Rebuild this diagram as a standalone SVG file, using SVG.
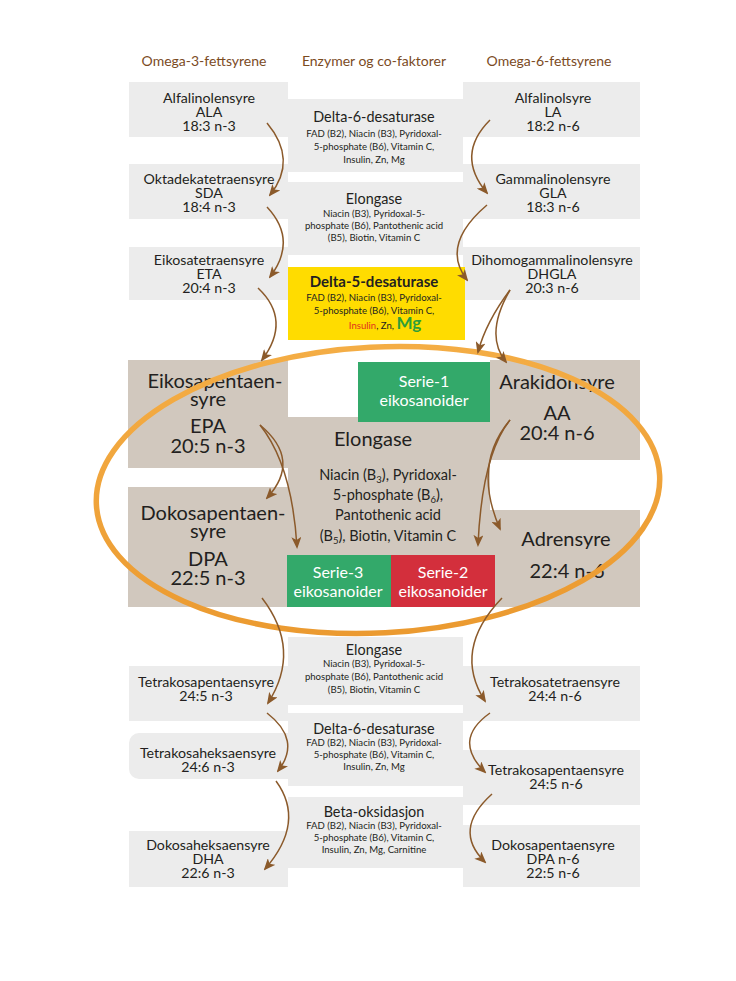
<svg xmlns="http://www.w3.org/2000/svg" width="736" height="981" viewBox="0 0 736 981">
<defs>
<style>
text{font-family:Lato,"Open Sans","Liberation Sans",sans-serif;fill:#231f20;text-anchor:middle}
.hdr{font-size:14px;fill:#7b4b1f}
.g{fill:#ececec}
.t{fill:#d1c8be}
.n{font-size:14.2px}
.et{font-size:14.4px}
.sm{font-size:9.6px}
.big{font-size:20px}
.mid{font-size:14.5px}
.w{fill:#ffffff;font-size:16px}
.c{fill:none;stroke:#8b5a2b;stroke-width:1.5;marker-end:url(#ah)}
</style>
<marker id="ah" viewBox="0 0 12 10" refX="10" refY="5" markerWidth="12" markerHeight="10" markerUnits="userSpaceOnUse" orient="auto">
<path d="M0,0 L12,5 L0,10 L3,5 z" fill="#8b5a2b"/>
</marker>
<linearGradient id="og" x1="0" y1="0" x2="0" y2="1">
<stop offset="0" stop-color="#f4ad45"/>
<stop offset="1" stop-color="#eb9a30"/>
</linearGradient>
</defs>
<rect width="736" height="981" fill="#ffffff"/>

<g id="headers">
<text class="hdr" x="204" y="66">Omega-3-fettsyrene</text>
<text class="hdr" x="374" y="66">Enzymer og co-faktorer</text>
<text class="hdr" x="549" y="66">Omega-6-fettsyrene</text>
</g>

<g id="ALA"><rect class="g" x="129" y="82" width="159" height="55"/>
<text class="n" x="209" y="103">Alfalinolensyre</text><text class="n" x="209" y="117">ALA</text><text class="n" x="209" y="131">18:3 n-3</text></g>
<g id="LA"><rect class="g" x="463" y="82" width="177" height="55"/>
<text class="n" x="553" y="103">Alfalinolsyre</text><text class="n" x="553" y="117">LA</text><text class="n" x="553" y="131">18:2 n-6</text></g>
<g id="delta6-top"><rect class="g" x="288" y="99" width="175" height="73"/>
<text class="et" x="374" y="122">Delta-6-desaturase</text>
<text class="sm" x="374" y="137">FAD (B2), Niacin (B3), Pyridoxal-</text>
<text class="sm" x="374" y="150">5-phosphate (B6), Vitamin C,</text>
<text class="sm" x="374" y="163">Insulin, Zn, Mg</text></g>

<g id="SDA"><rect class="g" x="129" y="164" width="159" height="55"/>
<text class="n" x="209" y="184">Oktadekatetraensyre</text><text class="n" x="209" y="198">SDA</text><text class="n" x="209" y="212">18:4 n-3</text></g>
<g id="GLA"><rect class="g" x="463" y="164" width="177" height="55"/>
<text class="n" x="553" y="184">Gammalinolensyre</text><text class="n" x="553" y="198">GLA</text><text class="n" x="553" y="212">18:3 n-6</text></g>
<g id="elongase-top"><rect class="g" x="288" y="182" width="175" height="73"/>
<text class="et" x="374" y="204">Elongase</text>
<text class="sm" x="374" y="217">Niacin (B3), Pyridoxal-5-</text>
<text class="sm" x="374" y="229">phosphate (B6), Pantothenic acid</text>
<text class="sm" x="374" y="241">(B5), Biotin, Vitamin C</text></g>

<g id="ETA"><rect class="g" x="129" y="247" width="159" height="53"/>
<text class="n" x="209" y="265">Eikosatetraensyre</text><text class="n" x="209" y="279">ETA</text><text class="n" x="209" y="293">20:4 n-3</text></g>
<g id="DHGLA"><rect class="g" x="463" y="247" width="177" height="53"/>
<text class="n" x="552" y="265">Dihomogammalinolensyre</text><text class="n" x="552" y="279">DHGLA</text><text class="n" x="552" y="293">20:3 n-6</text></g>
<g id="delta5"><rect x="288" y="267" width="177" height="73" fill="#ffdc00"/>
<text x="374" y="287" style="font-size:15px;font-weight:bold">Delta-5-desaturase</text>
<text class="sm" x="374" y="301">FAD (B2), Niacin (B3), Pyridoxal-</text>
<text class="sm" x="374" y="314">5-phosphate (B6), Vitamin C,</text>
<text class="sm" x="385" y="329"><tspan fill="#e2301e">Insulin</tspan>, Zn, <tspan style="font-size:17px;font-weight:bold" fill="#2e9e3a">Mg</tspan></text></g>

<g id="EPA"><rect class="t" x="128" y="360" width="160" height="108"/>
<text class="big" x="215" y="388">Eikosapentaen-</text><text class="big" x="208" y="406">syre</text>
<text class="big" x="208" y="433">EPA</text><text class="big" x="208" y="453">20:5 n-3</text></g>
<g id="DPA"><rect class="t" x="128" y="487" width="160" height="120"/>
<text class="big" x="213" y="520">Dokosapentaen-</text><text class="big" x="208" y="538">syre</text>
<text class="big" x="208" y="566">DPA</text><text class="big" x="208" y="585">22:5 n-3</text></g>
<g id="elongase-mid"><rect class="t" x="288" y="417" width="202" height="138"/>
<text class="big" x="373" y="446">Elongase</text>
<text class="mid" x="388" y="480">Niacin (B<tspan font-size="9.5" dy="3">3</tspan><tspan dy="-3">), Pyridoxal-</tspan></text>
<text class="mid" x="388" y="500">5-phosphate (B<tspan font-size="9.5" dy="3">6</tspan><tspan dy="-3">),</tspan></text>
<text class="mid" x="388" y="520">Pantothenic acid</text>
<text class="mid" x="388" y="541">(B<tspan font-size="9.5" dy="3">5</tspan><tspan dy="-3">), Biotin, Vitamin C</tspan></text></g>
<g id="serie1"><rect x="358" y="362" width="132" height="60" fill="#33a96a"/>
<text class="w" x="424" y="387">Serie-1</text><text class="w" x="424" y="406">eikosanoider</text></g>
<g id="AA"><rect class="t" x="490" y="360" width="150" height="100"/>
<text class="big" x="557" y="389">Arakidonsyre</text><text class="big" x="557" y="420">AA</text><text class="big" x="557" y="440">20:4 n-6</text></g>
<g id="adrensyre"><rect class="t" x="490" y="510" width="150" height="97"/>
<text class="big" x="566" y="546">Adrensyre</text><text class="big" x="567" y="578">22:4 n-6</text></g>
<g id="serie3"><rect x="287" y="555" width="104" height="52" fill="#33a96a"/>
<text class="w" x="338" y="578">Serie-3</text><text class="w" x="338" y="597">eikosanoider</text></g>
<g id="serie2"><rect x="391" y="555" width="104" height="52" fill="#d32f3c"/>
<text class="w" x="443" y="578">Serie-2</text><text class="w" x="443" y="597">eikosanoider</text></g>

<g id="elongase-bottom"><rect class="g" x="288" y="637" width="175" height="68"/>
<text class="et" x="374" y="655">Elongase</text>
<text class="sm" x="374" y="667">Niacin (B3), Pyridoxal-5-</text>
<text class="sm" x="374" y="680">phosphate (B6), Pantothenic acid</text>
<text class="sm" x="374" y="693">(B5), Biotin, Vitamin C</text></g>
<g id="tetrakosapentaensyre-n3"><rect class="g" x="129" y="666" width="159" height="55"/>
<text class="n" x="206" y="687">Tetrakosapentaensyre</text><text class="n" x="206" y="701">24:5 n-3</text></g>
<g id="tetrakosatetraensyre"><rect class="g" x="463" y="666" width="177" height="55"/>
<text class="n" x="555" y="687">Tetrakosatetraensyre</text><text class="n" x="555" y="701">24:4 n-6</text></g>
<g id="delta6-bottom"><rect class="g" x="288" y="713" width="175" height="73"/>
<text class="et" x="374" y="734">Delta-6-desaturase</text>
<text class="sm" x="374" y="746">FAD (B2), Niacin (B3), Pyridoxal-</text>
<text class="sm" x="374" y="758">5-phosphate (B6), Vitamin C,</text>
<text class="sm" x="374" y="770">Insulin, Zn, Mg</text></g>
<g id="tetrakosaheksaensyre"><path class="g" d="M139,733 H288 V779 H139 A10,10 0 0 1 129,769 V743 A10,10 0 0 1 139,733 z"/>
<text class="n" x="208" y="758">Tetrakosaheksaensyre</text><text class="n" x="208" y="772">24:6 n-3</text></g>
<g id="tetrakosapentaensyre-n6"><rect class="g" x="463" y="750" width="177" height="55"/>
<text class="n" x="556" y="775">Tetrakosapentaensyre</text><text class="n" x="556" y="789">24:5 n-6</text></g>
<g id="beta-oksidasjon"><rect class="g" x="288" y="797" width="175" height="71"/>
<text class="et" x="374" y="817">Beta-oksidasjon</text>
<text class="sm" x="374" y="829">FAD (B2), Niacin (B3), Pyridoxal-</text>
<text class="sm" x="374" y="841">5-phosphate (B6), Vitamin C,</text>
<text class="sm" x="374" y="853">Insulin, Zn, Mg, Carnitine</text></g>
<g id="DHA"><rect class="g" x="129" y="831" width="159" height="56"/>
<text class="n" x="208" y="850">Dokosaheksaensyre</text><text class="n" x="208" y="864">DHA</text><text class="n" x="208" y="878">22:6 n-3</text></g>
<g id="DPA-n6"><rect class="g" x="463" y="825" width="177" height="62"/>
<text class="n" x="553" y="850">Dokosapentaensyre</text><text class="n" x="553" y="864">DPA n-6</text><text class="n" x="553" y="878">22:5 n-6</text></g>

<g id="ring"><ellipse cx="378" cy="490" rx="282" ry="143" transform="rotate(-3 378 490)" fill="none" stroke="url(#og)" stroke-width="5.5"/></g>

<g id="connectors">
<path class="c" d="M267,123 Q298,160 270,195"/>
<path class="c" d="M267,207 Q298,240 270,277"/>
<path class="c" d="M258,288 Q292,320 262,360"/>
<path class="c" d="M490,120 Q455,155 487,193"/>
<path class="c" d="M487,205 Q440,245 467,280"/>
<path class="c" d="M510,290 Q486,322 478,352"/>
<path class="c" d="M510,290 Q484,335 506,362"/>
<path class="c" d="M260,425 Q302,460 267,498"/>
<path class="c" d="M260,425 Q292,465 297,547"/>
<path class="c" d="M510,420 Q472,465 500,529"/>
<path class="c" d="M510,420 Q482,455 478,545"/>
<path class="c" d="M262,598 Q302,650 268,703"/>
<path class="c" d="M267,713 Q302,740 278,771"/>
<path class="c" d="M276,781 Q306,822 265,869"/>
<path class="c" d="M502,598 Q452,650 485,701"/>
<path class="c" d="M490,713 Q452,740 485,772"/>
<path class="c" d="M492,794 Q452,830 485,862"/>
</g>
</svg>
